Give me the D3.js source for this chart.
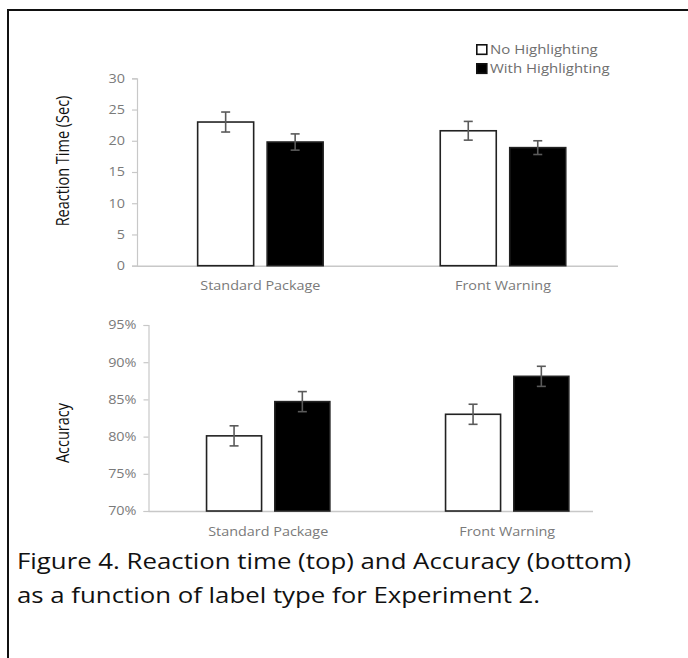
<!DOCTYPE html>
<html>
<head>
<meta charset="utf-8">
<script src="https://cdn.jsdelivr.net/npm/d3@7"></script>
<style>
  body { margin: 0; background: #fff; }
  svg { display: block; }
  text { font-family: "Open Sans", "Liberation Sans", sans-serif; }
</style>
</head>
<body>
<div id="chart"></div>
<script>
// values
const categories = ["Standard Package", "Front Warning"];
const series = ["No Highlighting", "With Highlighting"];

const rtNoHighlight = [23.0, 21.6];
const rtWithHighlight = [19.8, 18.9];
const rtErrNo = [1.6, 1.5];
const rtErrWith = [1.3, 1.1];
const rtTicks = [0, 5, 10, 15, 20, 25, 30];

const accNoHighlight = [80.1, 83.0];
const accWithHighlight = [84.7, 88.1];
const accErrNo = [1.35, 1.35];
const accErrWith = [1.35, 1.35];
const accTicks = [70, 75, 80, 85, 90, 95];

const captionLines = [
  "Figure 4. Reaction time (top) and Accuracy (bottom)",
  "as a function of label type for Experiment 2."
];

const W = 688, H = 658;
const SX = 1.2; // the source figure is stretched sideways, so is the text

const svg = d3.select('#chart').append('svg')
  .attr('width', W).attr('height', H);

svg.append('rect').attr('width', W).attr('height', H).attr('fill', '#fff');

// frame (top and left edges only are visible)
svg.append('path')
  .attr('d', `M8,${H} L8,10 L${W},10`)
  .attr('fill', 'none').attr('stroke', '#111').attr('stroke-width', 2);

// move a text's x into a transform so it can be widened around its anchor
function stretch(sel) {
  sel.each(function () {
    const t = d3.select(this);
    const x = +t.attr('x') || 0;
    const y = +t.attr('y') || 0;
    t.attr('x', 0).attr('y', 0)
      .attr('transform', `translate(${x},${y}) scale(${SX},1)`);
  });
}

function drawPanel(cfg) {
  const g = svg.append('g');
  const y = d3.scaleLinear().domain(cfg.domain).range([cfg.bottom, cfg.top]);
  const x0 = d3.scaleBand().domain(categories).range(cfg.band);
  const x1 = d3.scaleBand().domain(series)
    .range([x0.bandwidth() / 2 - cfg.group / 2, x0.bandwidth() / 2 + cfg.group / 2])
    .paddingInner(0.194);

  // y axis
  const yAxis = g.append('g')
    .attr('transform', `translate(${cfg.axisX},0)`)
    .call(d3.axisLeft(y).tickValues(cfg.ticks).tickSize(5).tickPadding(7).tickFormat(cfg.fmt));
  yAxis.select('.domain').attr('stroke', '#c8c8c8').attr('stroke-width', 1.2);
  yAxis.selectAll('.tick line').attr('stroke', '#c8c8c8').attr('stroke-width', 1.2);
  yAxis.selectAll('.tick text')
    .attr('fill', '#7a7a7a').style('font-size', '12px')
    .call(stretch);

  // x axis
  const xAxis = g.append('g')
    .attr('transform', `translate(0,${cfg.bottom})`)
    .call(d3.axisBottom(x0).tickSize(0).tickPadding(cfg.labelPad));
  xAxis.select('.domain').attr('d', `M${cfg.axisX},0.5H${cfg.axisEnd}`)
    .attr('stroke', '#c8c8c8').attr('stroke-width', 1.5);
  xAxis.selectAll('.tick text')
    .attr('fill', '#7a7a7a').style('font-size', '12px')
    .call(stretch);

  const rows = categories.map((c, i) => ({
    cat: c,
    vals: [
      { s: series[0], v: cfg.no[i], e: cfg.errNo[i] },
      { s: series[1], v: cfg.with[i], e: cfg.errWith[i] }
    ]
  }));

  const grp = g.selectAll('.grp').data(rows).enter().append('g')
    .attr('transform', d => `translate(${x0(d.cat)},0)`);

  grp.selectAll('rect').data(d => d.vals).enter().append('rect')
    .attr('x', d => x1(d.s))
    .attr('y', d => y(d.v))
    .attr('width', x1.bandwidth())
    .attr('height', d => cfg.bottom - y(d.v))
    .attr('fill', d => d.s === series[0] ? '#fff' : '#000')
    .attr('stroke', '#222')
    .attr('stroke-width', 1.6);

  const eb = grp.selectAll('.err').data(d => d.vals).enter().append('g')
    .attr('stroke', '#5a5a5a').attr('stroke-width', 1.6);
  const cx = d => x1(d.s) + x1.bandwidth() / 2;
  eb.append('line')
    .attr('x1', cx).attr('x2', cx)
    .attr('y1', d => y(d.v + d.e)).attr('y2', d => y(d.v - d.e));
  eb.append('line')
    .attr('x1', d => cx(d) - 4.5).attr('x2', d => cx(d) + 4.5)
    .attr('y1', d => y(d.v + d.e)).attr('y2', d => y(d.v + d.e));
  eb.append('line')
    .attr('x1', d => cx(d) - 4.5).attr('x2', d => cx(d) + 4.5)
    .attr('y1', d => y(d.v - d.e)).attr('y2', d => y(d.v - d.e));

  // y title
  g.append('text')
    .attr('transform', `translate(${cfg.titleX},${cfg.titleY}) rotate(-90) scale(1,${SX})`)
    .attr('text-anchor', 'middle')
    .attr('fill', '#111')
    .style('font-size', '14.5px')
    .text(cfg.title);
}

drawPanel({
  domain: [0, 30], ticks: rtTicks, fmt: d3.format('d'),
  top: 78.3, bottom: 265.7, axisX: 137, axisEnd: 618,
  band: [139.1, 624.3], group: 125.5, labelPad: 16,
  no: rtNoHighlight, with: rtWithHighlight, errNo: rtErrNo, errWith: rtErrWith,
  title: 'Reaction Time (Sec)', titleX: 69, titleY: 161
});

drawPanel({
  domain: [70, 95], ticks: accTicks, fmt: d => d + '%',
  top: 325, bottom: 511, axisX: 148.5, axisEnd: 593,
  band: [148.7, 626.7], group: 123.3, labelPad: 16,
  no: accNoHighlight, with: accWithHighlight, errNo: accErrNo, errWith: accErrWith,
  title: 'Accuracy', titleX: 69, titleY: 433
});

// legend
const legend = svg.append('g').attr('transform', 'translate(476,44)');
const li = legend.selectAll('g').data(series).enter().append('g')
  .attr('transform', (d, i) => `translate(0,${i * 19})`);
li.append('rect')
  .attr('x', 0.8).attr('y', 0.8).attr('width', 10).attr('height', 9.5)
  .attr('fill', (d, i) => i === 0 ? '#fff' : '#000')
  .attr('stroke', '#111').attr('stroke-width', 1.6);
li.append('text')
  .attr('x', 14).attr('y', 10)
  .attr('fill', '#6e6e6e')
  .style('font-size', '12.5px')
  .text(d => d)
  .call(stretch);

// caption
svg.append('g').selectAll('text').data(captionLines).enter().append('text')
  .attr('x', 17)
  .attr('y', (d, i) => 569 + i * 34)
  .attr('fill', '#111')
  .style('font-size', '21.5px')
  .text(d => d)
  .call(stretch);
</script>
</body>
</html>
